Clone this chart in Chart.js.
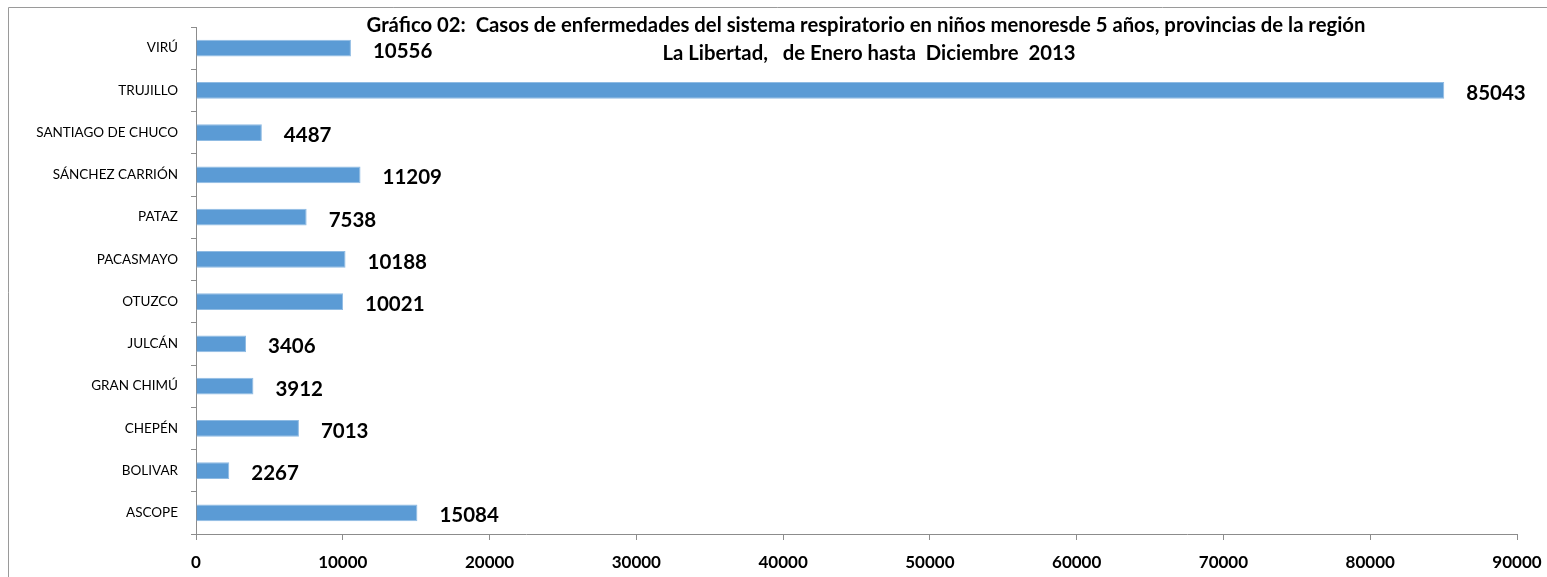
<!DOCTYPE html>
<html>
<head>
<meta charset="utf-8">
<script src="https://cdn.jsdelivr.net/npm/chart.js@4"></script>
<style>
  html, body { margin: 0; padding: 0; background: #fff; }
  #wrap { width: 1547px; height: 577px; position: relative; }
</style>
</head>
<body>
<div id="wrap"><canvas id="myChart" width="1547" height="577"></canvas></div>
<script>
const provincias = ['VIRÚ', 'TRUJILLO', 'SANTIAGO DE CHUCO', 'SÁNCHEZ CARRIÓN', 'PATAZ', 'PACASMAYO', 'OTUZCO', 'JULCÁN', 'GRAN CHIMÚ', 'CHEPÉN', 'BOLIVAR', 'ASCOPE']
const casos = [10556, 85043, 4487, 11209, 7538, 10188, 10021, 3406, 3912, 7013, 2267, 15084]
const tituloLineas = ['Gráfico 02:  Casos de enfermedades del sistema respiratorio en niños menoresde 5 años, provincias de la región', 'La Libertad,   de Enero hasta  Diciembre  2013']

// frame + title drawn over the plot, like the original sheet chart
const extras = {
  id: 'extras',
  afterDraw(chart) {
    const ctx = chart.ctx
    ctx.save()
    ctx.strokeStyle = '#9a9a9a'
    ctx.lineWidth = 1
    ctx.beginPath()
    ctx.moveTo(8.5, 577)
    ctx.lineTo(8.5, 7.5)
    ctx.lineTo(1547, 7.5)
    ctx.stroke()

    ctx.fillStyle = '#000'
    ctx.font = 'bold 20.3px Lato'
    ctx.textAlign = 'center'
    ctx.textBaseline = 'middle'
    ctx.fillText(tituloLineas[0], 866, 25)
    ctx.fillText(tituloLineas[1], 869, 53)
    ctx.restore()
  },
  afterDatasetsDraw(chart) {
    const ctx = chart.ctx
    const meta = chart.getDatasetMeta(0)
    ctx.save()
    ctx.fillStyle = '#000'
    ctx.font = 'bold 20.5px Lato'
    ctx.textAlign = 'left'
    ctx.textBaseline = 'middle'
    meta.data.forEach((bar, i) => {
      ctx.fillText(casos[i], bar.x + 22, bar.y + 3)
    })
    ctx.restore()
  }
}

const ctx = document.getElementById('myChart').getContext('2d')
const myChart = new Chart(ctx, {
  type: 'bar',
  data: {
    labels: provincias,
    datasets: [{
      data: casos,
      backgroundColor: '#5b9bd5',
      borderColor: '#8fbbe3',
      borderWidth: 1,
      barPercentage: 0.4,
      categoryPercentage: 1
    }]
  },
  options: {
    indexAxis: 'y',
    responsive: false,
    animation: false,
    layout: { padding: { top: 27, right: 30, left: 0, bottom: 0 } },
    plugins: {
      legend: { display: false },
      title: { display: false },
      tooltip: { enabled: false }
    },
    scales: {
      x: {
        min: 0,
        max: 90000,
        ticks: {
          stepSize: 10000,
          color: '#000',
          padding: 12,
          maxRotation: 0,
          callback: v => String(v),
          font: { family: 'Lato', size: 17, weight: 'bold' }
        },
        grid: { drawOnChartArea: false, tickLength: 6, color: '#8c8c8c' },
        border: { color: '#8c8c8c' },
        afterFit(scale) {
          scale.height = 43
          scale.paddingLeft = 0
          scale.paddingRight = 0
        }
      },
      y: {
        ticks: {
          color: '#000',
          padding: 13,
          font: { family: 'Lato', size: 13.5 }
        },
        grid: { drawOnChartArea: false, tickLength: 5, color: '#8c8c8c', offset: true },
        border: { color: '#8c8c8c' },
        afterFit(scale) { scale.width = 196 }
      }
    }
  },
  plugins: [extras]
})
</script>
</body>
</html>
